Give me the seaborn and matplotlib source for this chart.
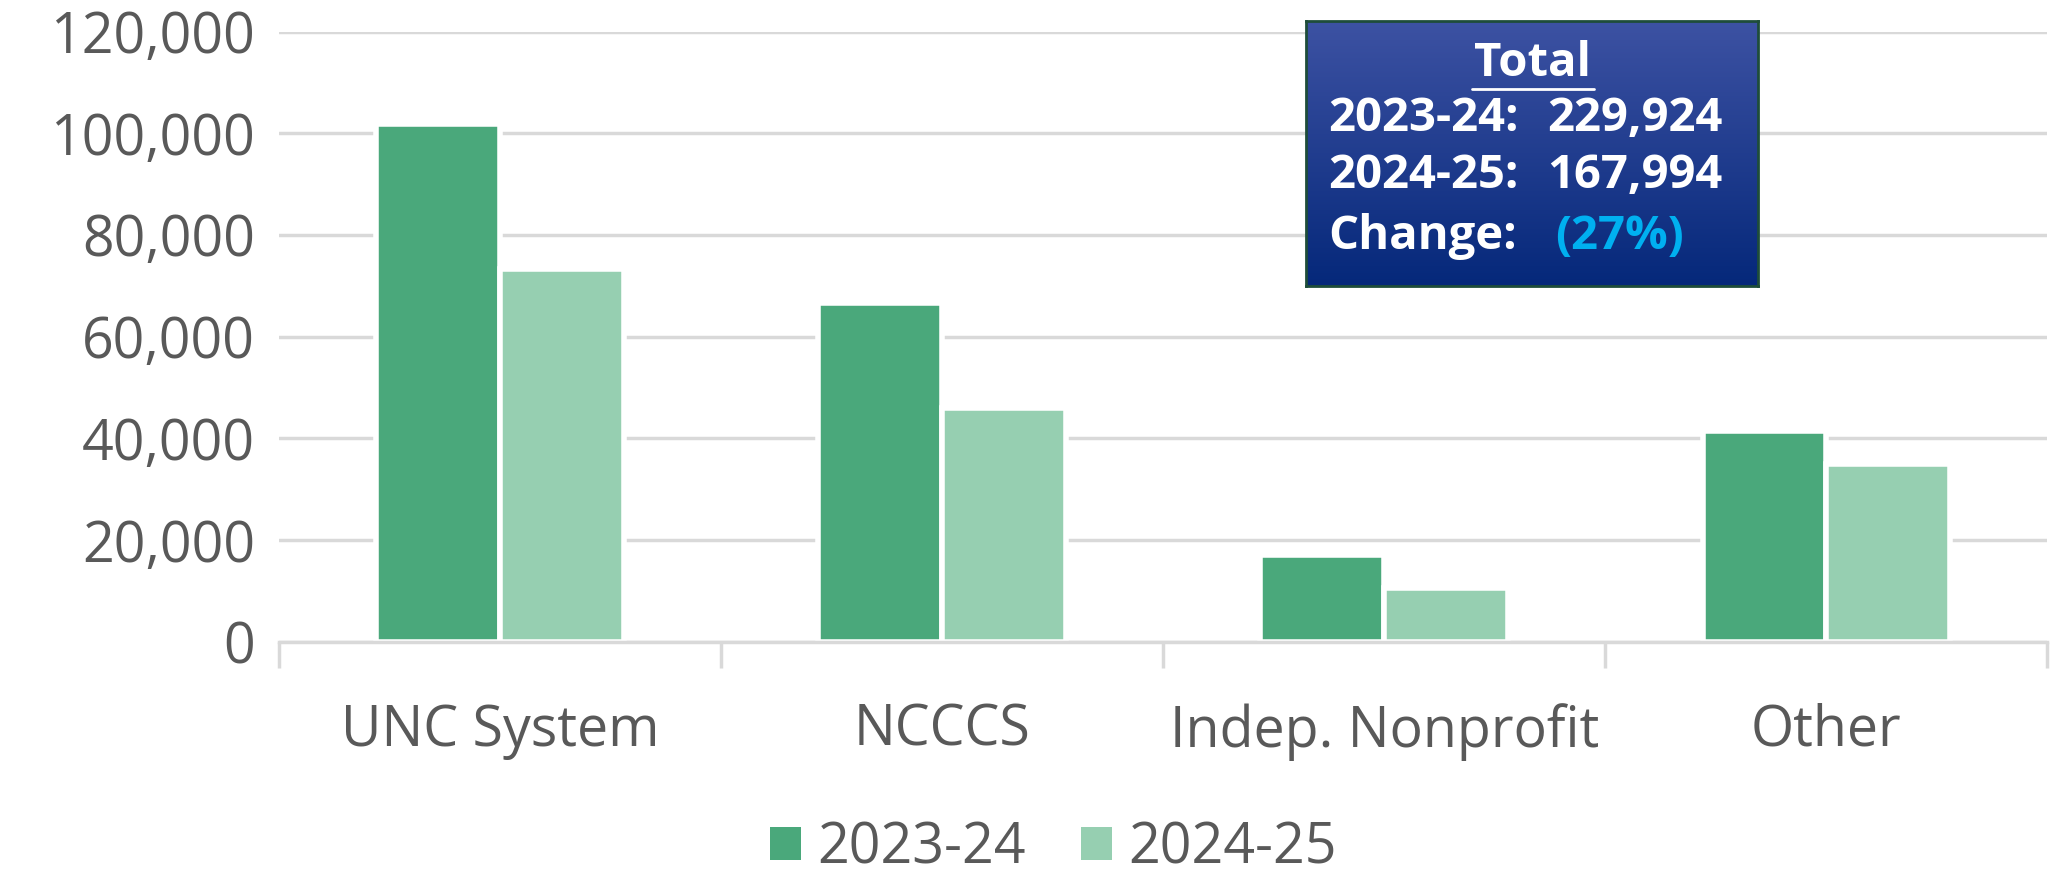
import matplotlib
matplotlib.use("Agg")
import numpy as np
import pandas as pd
import matplotlib.pyplot as plt
import seaborn as sns
from matplotlib.ticker import FuncFormatter
from matplotlib.patches import Patch
from matplotlib.colors import LinearSegmentedColormap

# Data
categories = ["UNC System", "NCCCS", "Indep. Nonprofit", "Other"]
years = ["2023-24", "2024-25"]
count_2324 = [101800, 66600, 17000, 41500]
count_2425 = [73300, 46000, 10500, 35000]
total_2324 = "229,924"
total_2425 = "167,994"
change_txt = "(27%)"

df = pd.DataFrame({
    "sector": categories * 2,
    "year": [years[0]] * len(categories) + [years[1]] * len(categories),
    "count": count_2324 + count_2425,
})

colors = ["#4aa87b", "#96cfb1"]
grey = "#595959"
grid_c = "#d9d9d9"

sns.set_theme(style="white")
plt.rcParams["font.family"] = ["Open Sans", "DejaVu Sans"]

fig = plt.figure(figsize=(20.54, 8.75), dpi=100)
ax = fig.add_axes([0.1358, 0.2665, 0.861, 0.6975])

sns.barplot(data=df, x="sector", y="count", hue="year", palette=colors,
            saturation=1, width=0.56, edgecolor="white", linewidth=4, ax=ax)
if ax.get_legend() is not None:
    ax.get_legend().remove()

ax.set_xlim(-0.5, 3.5)
ax.set_ylim(0, 120000)
ax.set_yticks(range(0, 120001, 20000))
ax.yaxis.set_major_formatter(FuncFormatter(lambda v, p: f"{int(v):,}"))
ax.grid(axis="y", color=grid_c, linewidth=2.5)
ax.set_axisbelow(True)
for s in ["left", "right", "top"]:
    ax.spines[s].set_visible(False)
ax.spines["bottom"].set_color(grid_c)
ax.spines["bottom"].set_linewidth(2.5)
ax.set_xlabel("")
ax.set_ylabel("")

ax.tick_params(axis="y", length=0, pad=17, labelsize=40, labelcolor=grey)
ax.tick_params(axis="x", which="major", length=0, pad=44, labelsize=40, labelcolor=grey)
ax.set_xticks([-0.5, 0.5, 1.5, 2.5, 3.5], minor=True)
ax.tick_params(axis="x", which="minor", bottom=True, length=19, width=2.5,
               color=grid_c, direction="out")

# legend
handles = [Patch(facecolor=c, edgecolor="none") for c in colors]
fig.legend(handles, years, loc="center", bbox_to_anchor=(0.513, 0.03),
           ncol=2, frameon=False, fontsize=40, labelcolor=grey,
           handlelength=0.55, handleheight=0.55, handletextpad=0.3,
           columnspacing=1.0)

# totals box with gradient
bax = fig.add_axes([0.636, 0.673, 0.220, 0.303])
cmap = LinearSegmentedColormap.from_list("box", ["#3d52a3", "#05287a"])
grad = np.linspace(0, 1, 256).reshape(-1, 1)
bax.imshow(grad, cmap=cmap, aspect="auto", extent=[0, 1, 0, 1], origin="upper")
bax.set_xlim(0, 1)
bax.set_ylim(0, 1)
bax.set_xticks([])
bax.set_yticks([])
for s in bax.spines.values():
    s.set_color("#1e4d3a")
    s.set_linewidth(2)

fs = 34
bax.text(0.5, 0.84, "Total", color="white", fontsize=fs, fontweight="bold",
         ha="center", va="center", transform=bax.transAxes)
bax.plot([0.367, 0.636], [0.745, 0.745], color="white", lw=2, transform=bax.transAxes)
bax.text(0.049, 0.634, years[0] + ":", color="white", fontsize=fs, fontweight="bold",
         ha="left", va="center", transform=bax.transAxes)
bax.text(0.533, 0.634, total_2324, color="white", fontsize=fs, fontweight="bold",
         ha="left", va="center", transform=bax.transAxes)
bax.text(0.049, 0.416, years[1] + ":", color="white", fontsize=fs, fontweight="bold",
         ha="left", va="center", transform=bax.transAxes)
bax.text(0.533, 0.416, total_2425, color="white", fontsize=fs, fontweight="bold",
         ha="left", va="center", transform=bax.transAxes)
bax.text(0.049, 0.188, "Change:", color="white", fontsize=fs, fontweight="bold",
         ha="left", va="center", transform=bax.transAxes)
bax.text(0.551, 0.188, change_txt, color="#00b0f0", fontsize=fs, fontweight="bold",
         ha="left", va="center", transform=bax.transAxes)

fig.savefig("out.png", dpi=100)
